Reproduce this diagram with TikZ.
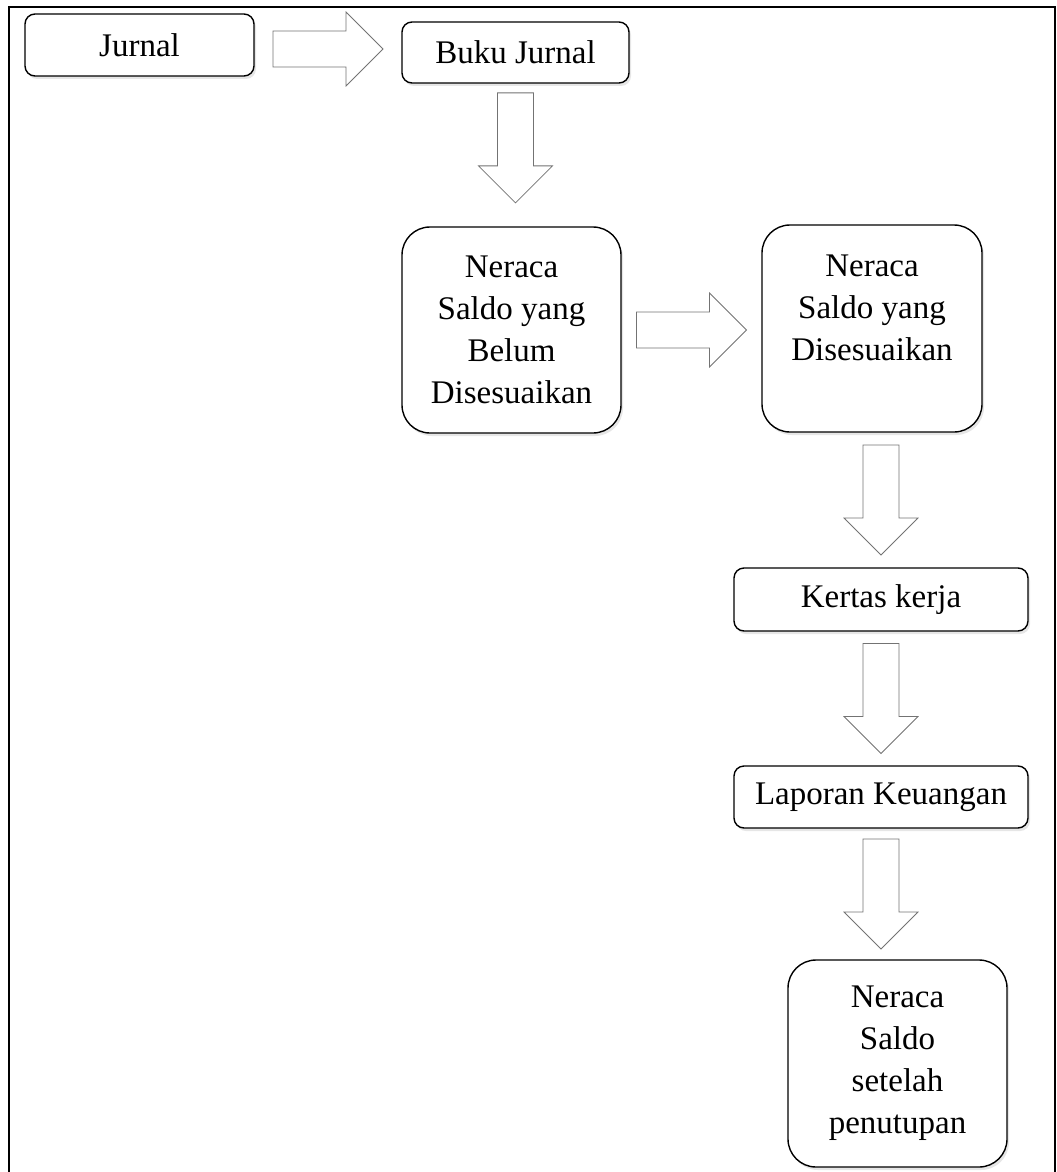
\documentclass[tikz,border=0pt]{standalone}
\usepackage{fontspec}
\setmainfont{Liberation Serif}
\usetikzlibrary{shadows}

\begin{document}
\begin{tikzpicture}[%
  x=0.5pt, y=-0.5pt,
  box/.style={draw, line width=0.7pt, rounded corners=5pt, fill=white,
    align=center, inner sep=0pt, font=\fontsize{16.5pt}{21pt}\selectfont,
    drop shadow={shadow xshift=1pt, shadow yshift=-1.5pt, opacity=0.2}},
  bigbox/.style={box, rounded corners=14pt},
  arrowline/.style={draw=black!55, line width=0.4pt, fill=white},
  fatarrow/.pic={\draw[arrowline] (-55,-18) -- (18,-18) -- (18,-37) -- (55,0)
    -- (18,37) -- (18,18) -- (-55,18) -- cycle;}]
  \useasboundingbox (0,0) rectangle (1056,1172);
  \draw[line width=0.8pt] (9,1172) -- (9,7) -- (1055,7) -- (1055,1172);

  \node[box, minimum width=114.5pt, minimum height=31pt] (jurnal) at (139.5,45) {Jurnal};
  \node[box, minimum width=113.5pt, minimum height=30.5pt] (buku) at (515.5,52.5) {Buku Jurnal};
  \node[bigbox, minimum width=109.5pt, minimum height=103pt] (nsb) at (511.5,330)
    {Neraca\\Saldo yang\\Belum\\Disesuaikan};
  \node[bigbox, minimum width=110pt, minimum height=103.5pt] (nsd) at (872,328.5)
    {Neraca\\Saldo yang\\Disesuaikan\\\mbox{}};
  \node[box, minimum width=147pt, minimum height=31.5pt] (kertas) at (881,599.5) {Kertas kerja};
  \node[box, minimum width=147pt, minimum height=31pt] (laporan) at (881,797) {Laporan Keuangan};
  \node[bigbox, minimum width=109.5pt, minimum height=103.5pt] (akhir) at (897.5,1063.5)
    {Neraca\\Saldo\\setelah\\penutupan};

  \path (jurnal.east) -- (jurnal.east -| buku.west)
    pic[midway, sloped, allow upside down, yshift=-2pt] {fatarrow};
  \path (buku.south) -- (buku.south |- nsb.north)
    pic[pos=0.45, sloped, allow upside down] {fatarrow};
  \path (nsb.east) -- (nsb.east -| nsd.west)
    pic[midway, sloped, allow upside down] {fatarrow};
  \path (kertas.north |- nsd.south) -- (kertas.north)
    pic[midway, sloped, allow upside down] {fatarrow};
  \path (kertas.south) -- (laporan.north)
    pic[midway, sloped, allow upside down] {fatarrow};
  \path (laporan.south) -- (laporan.south |- akhir.north)
    pic[midway, sloped, allow upside down] {fatarrow};
\end{tikzpicture}
\end{document}
